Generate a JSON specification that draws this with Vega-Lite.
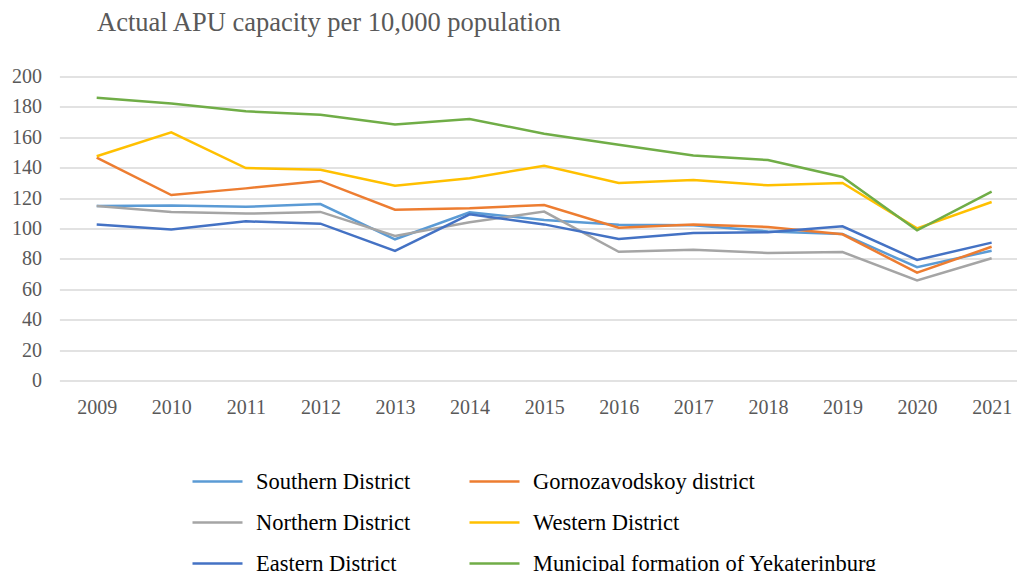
{
  "$schema": "https://vega.github.io/schema/vega-lite/v6.json",
  "autosize": {"type": "none"},
  "width": 957.6,
  "height": 304,
  "padding": {"left": 59.4, "top": 76.5, "right": 0, "bottom": 190.5},
  "background": "white",
  "title": {
    "text": "Actual APU capacity per 10,000 population",
    "anchor": "start",
    "frame": "group",
    "dx": 37.6,
    "font": "Liberation Serif",
    "fontSize": 26.5,
    "fontWeight": "normal",
    "color": "#595959",
    "offset": 30
  },
  "config": {
    "view": {"stroke": null},
    "axis": {"labelFont": "Liberation Serif", "labelFontSize": 20, "labelColor": "#595959", "domain": false, "ticks": false, "tickSize": 0}
  },
  "data": {
    "values": [
      {"year": 2009, "series": "Southern District", "value": 114.8},
      {"year": 2010, "series": "Southern District", "value": 115.2},
      {"year": 2011, "series": "Southern District", "value": 114.3},
      {"year": 2012, "series": "Southern District", "value": 116.1},
      {"year": 2013, "series": "Southern District", "value": 92.9},
      {"year": 2014, "series": "Southern District", "value": 110.6},
      {"year": 2015, "series": "Southern District", "value": 105.6},
      {"year": 2016, "series": "Southern District", "value": 102.5},
      {"year": 2017, "series": "Southern District", "value": 102.1},
      {"year": 2018, "series": "Southern District", "value": 98.1},
      {"year": 2019, "series": "Southern District", "value": 96.4},
      {"year": 2020, "series": "Southern District", "value": 74.5},
      {"year": 2021, "series": "Southern District", "value": 85.4},
      {"year": 2009, "series": "Gornozavodskoy district", "value": 146.6},
      {"year": 2010, "series": "Gornozavodskoy district", "value": 122.0},
      {"year": 2011, "series": "Gornozavodskoy district", "value": 126.4},
      {"year": 2012, "series": "Gornozavodskoy district", "value": 131.3},
      {"year": 2013, "series": "Gornozavodskoy district", "value": 112.4},
      {"year": 2014, "series": "Gornozavodskoy district", "value": 113.3},
      {"year": 2015, "series": "Gornozavodskoy district", "value": 115.5},
      {"year": 2016, "series": "Gornozavodskoy district", "value": 100.5},
      {"year": 2017, "series": "Gornozavodskoy district", "value": 102.7},
      {"year": 2018, "series": "Gornozavodskoy district", "value": 101.0},
      {"year": 2019, "series": "Gornozavodskoy district", "value": 96.2},
      {"year": 2020, "series": "Gornozavodskoy district", "value": 70.9},
      {"year": 2021, "series": "Gornozavodskoy district", "value": 88.0},
      {"year": 2009, "series": "Northern District", "value": 114.8},
      {"year": 2010, "series": "Northern District", "value": 110.9},
      {"year": 2011, "series": "Northern District", "value": 109.8},
      {"year": 2012, "series": "Northern District", "value": 110.9},
      {"year": 2013, "series": "Northern District", "value": 95.1},
      {"year": 2014, "series": "Northern District", "value": 104.1},
      {"year": 2015, "series": "Northern District", "value": 111.1},
      {"year": 2016, "series": "Northern District", "value": 84.7},
      {"year": 2017, "series": "Northern District", "value": 86.1},
      {"year": 2018, "series": "Northern District", "value": 83.9},
      {"year": 2019, "series": "Northern District", "value": 84.5},
      {"year": 2020, "series": "Northern District", "value": 65.9},
      {"year": 2021, "series": "Northern District", "value": 80.4},
      {"year": 2009, "series": "Western District", "value": 147.5},
      {"year": 2010, "series": "Western District", "value": 163.3},
      {"year": 2011, "series": "Western District", "value": 139.8},
      {"year": 2012, "series": "Western District", "value": 138.7},
      {"year": 2013, "series": "Western District", "value": 128.2},
      {"year": 2014, "series": "Western District", "value": 133.0},
      {"year": 2015, "series": "Western District", "value": 141.3},
      {"year": 2016, "series": "Western District", "value": 129.9},
      {"year": 2017, "series": "Western District", "value": 131.9},
      {"year": 2018, "series": "Western District", "value": 128.4},
      {"year": 2019, "series": "Western District", "value": 129.9},
      {"year": 2020, "series": "Western District", "value": 100.1},
      {"year": 2021, "series": "Western District", "value": 117.4},
      {"year": 2009, "series": "Eastern District", "value": 102.7},
      {"year": 2010, "series": "Eastern District", "value": 99.4},
      {"year": 2011, "series": "Eastern District", "value": 104.7},
      {"year": 2012, "series": "Eastern District", "value": 103.2},
      {"year": 2013, "series": "Eastern District", "value": 85.2},
      {"year": 2014, "series": "Eastern District", "value": 109.3},
      {"year": 2015, "series": "Eastern District", "value": 102.7},
      {"year": 2016, "series": "Eastern District", "value": 93.1},
      {"year": 2017, "series": "Eastern District", "value": 97.0},
      {"year": 2018, "series": "Eastern District", "value": 97.5},
      {"year": 2019, "series": "Eastern District", "value": 101.4},
      {"year": 2020, "series": "Eastern District", "value": 79.3},
      {"year": 2021, "series": "Eastern District", "value": 90.7},
      {"year": 2009, "series": "Municipal formation of Yekaterinburg", "value": 186.0},
      {"year": 2010, "series": "Municipal formation of Yekaterinburg", "value": 182.3},
      {"year": 2011, "series": "Municipal formation of Yekaterinburg", "value": 177.1},
      {"year": 2012, "series": "Municipal formation of Yekaterinburg", "value": 174.9},
      {"year": 2013, "series": "Municipal formation of Yekaterinburg", "value": 168.5},
      {"year": 2014, "series": "Municipal formation of Yekaterinburg", "value": 172.0},
      {"year": 2015, "series": "Municipal formation of Yekaterinburg", "value": 162.4},
      {"year": 2016, "series": "Municipal formation of Yekaterinburg", "value": 155.1},
      {"year": 2017, "series": "Municipal formation of Yekaterinburg", "value": 148.1},
      {"year": 2018, "series": "Municipal formation of Yekaterinburg", "value": 145.0},
      {"year": 2019, "series": "Municipal formation of Yekaterinburg", "value": 133.9},
      {"year": 2020, "series": "Municipal formation of Yekaterinburg", "value": 98.8},
      {"year": 2021, "series": "Municipal formation of Yekaterinburg", "value": 124.2}
    ]
  },
  "mark": {"type": "line", "strokeWidth": 2.5, "strokeJoin": "miter"},
  "encoding": {
    "x": {
      "field": "year",
      "type": "quantitative",
      "scale": {"domain": [2008.5, 2021.34], "nice": false, "zero": false},
      "axis": {"title": null, "values": [2009, 2010, 2011, 2012, 2013, 2014, 2015, 2016, 2017, 2018, 2019, 2020, 2021], "format": "d", "grid": false, "labelPadding": 17, "labelFlush": false, "labelOverlap": false}
    },
    "y": {
      "field": "value",
      "type": "quantitative",
      "scale": {"domain": [0, 200], "nice": false},
      "axis": {"title": null, "values": [0, 20, 40, 60, 80, 100, 120, 140, 160, 180, 200], "grid": true, "gridColor": "#d9d9d9", "gridWidth": 1.5, "labelPadding": 18}
    },
    "color": {
      "field": "series",
      "type": "nominal",
      "scale": {
        "domain": ["Southern District", "Northern District", "Eastern District", "Gornozavodskoy district", "Western District", "Municipal formation of Yekaterinburg"],
        "range": ["#5B9BD5", "#A5A5A5", "#4472C4", "#ED7D31", "#FFC000", "#70AD47"]
      },
      "legend": {
        "title": null,
        "orient": "none",
        "legendX": 131.6,
        "legendY": 378.5,
        "columns": 2,
        "symbolType": "stroke",
        "symbolSize": 2500,
        "symbolStrokeWidth": 2.5,
        "labelFont": "Liberation Serif",
        "labelFontSize": 22.5,
        "labelColor": "#000000",
        "labelOffset": 12,
        "labelLimit": 500,
        "columnPadding": 53,
        "rowPadding": 3
      }
    }
  }
}
